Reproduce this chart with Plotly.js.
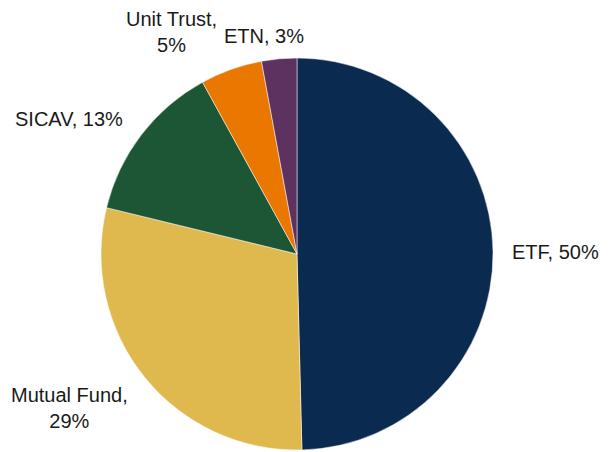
<!DOCTYPE html>
<html>
<head>
<meta charset="utf-8">
<script src="https://cdn.plot.ly/plotly-3.0.1.min.js"></script>
<style>html,body{margin:0;padding:0;background:#fff;}#chart{width:614px;height:452px;}</style>
</head>
<body>
<div id="chart"></div>
<script>
const categories = ["ETF", "Mutual Fund", "SICAV", "Unit Trust", "ETN"];
const shares = [49.6, 29.2, 13.2, 5.1, 2.9];
const sliceColors = ["#0b2a4f", "#e0b94e", "#1d5634", "#ea7800", "#5d3160"];

// label layout (pixel positions of label centres in the 614x452 frame, and line-break choice)
const labelBreak = [false, true, false, true, false];
const labelPx = [[555.5, 252], [69.5, 408], [69, 119], [171, 32], [264, 36]];

const W = 614, H = 452;
const total = shares.reduce((a, b) => a + b, 0);

const trace = {
  type: "pie",
  labels: categories,
  values: shares,
  textinfo: "none",
  sort: false,
  direction: "clockwise",
  rotation: 0,
  marker: { colors: sliceColors, line: { color: "#ffffff", width: 0.5 } },
  automargin: false,
  showlegend: false,
  hoverinfo: "none",
  domain: { x: [0.1637, 0.8037], y: [0.0044, 0.8717] }
};

const annotations = categories.map((c, i) => ({
  text: c + "," + (labelBreak[i] ? "<br>" : " ") + Math.round(shares[i] / total * 100) + "%",
  xref: "paper", yref: "paper",
  x: labelPx[i][0] / W, y: 1 - labelPx[i][1] / H,
  xanchor: "center", yanchor: "middle",
  showarrow: false, align: "center",
  font: { family: "Liberation Sans, Arial, sans-serif", size: 20, color: "#1a1a1a" }
}));

Plotly.newPlot("chart", [trace], {
  width: W, height: H,
  margin: { l: 0, r: 0, t: 0, b: 0 },
  paper_bgcolor: "#ffffff",
  showlegend: false,
  annotations: annotations
}, { staticPlot: true, displayModeBar: false });
</script>
</body>
</html>
